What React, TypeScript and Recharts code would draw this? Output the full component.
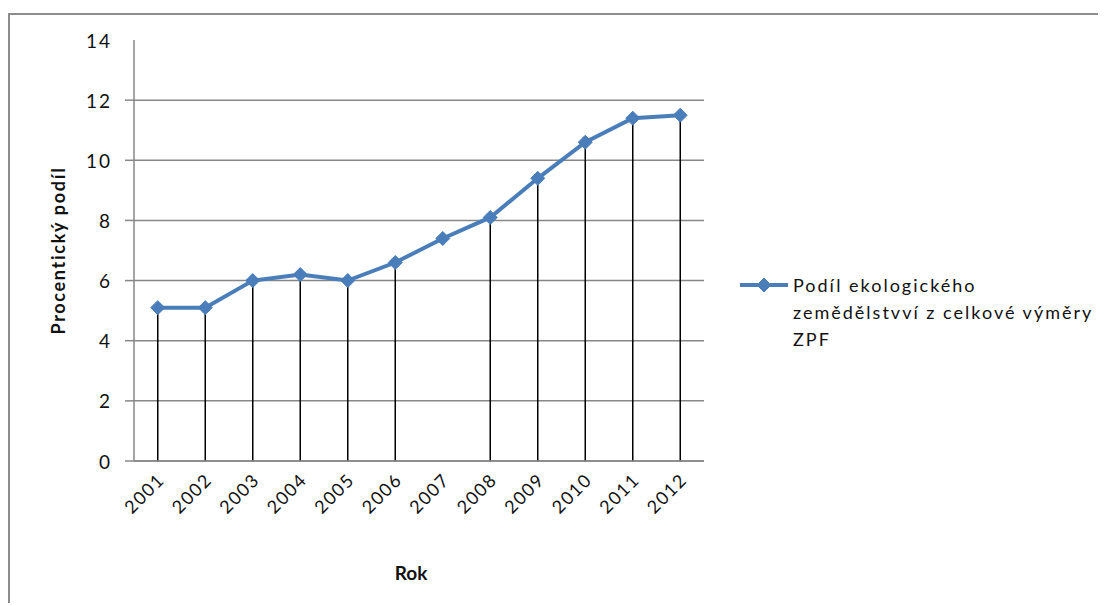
import React from 'react';
import { ComposedChart, Line, Bar, XAxis, YAxis, CartesianGrid, Legend, Label } from 'recharts';

const years = ['2001', '2002', '2003', '2004', '2005', '2006', '2007', '2008', '2009', '2010', '2011', '2012'];
const share = [5.1, 5.1, 6.0, 6.2, 6.0, 6.6, 7.4, 8.1, 9.4, 10.6, 11.4, 11.5];
// the 2007 drop line is missing in the original
const hasDrop = [true, true, true, true, true, true, false, true, true, true, true, true];
const yTicks = [0, 2, 4, 6, 8, 10, 12, 14];

const seriesName = 'Podíl ekologického zemědělství z celkové výměry ZPF';
const legendLines = ['Podíl ekologického', 'zemědělstvví z celkové výměry', 'ZPF'];

const data = years.map((year, i) => ({
  year,
  share: share[i],
  drop: hasDrop[i] ? share[i] : null,
}));

const FONT = 'Lato, "Open Sans", sans-serif';
const BLUE = '#4a7ebb';
const GRID = '#878787';
const LEGEND_W = 340;

const Diamond = (props: any) => {
  const { cx, cy } = props;
  if (cx == null || cy == null) return null;
  const r = 7;
  return (
    <polygon
      points={`${cx},${cy - r} ${cx + r},${cy} ${cx},${cy + r} ${cx - r},${cy}`}
      fill={BLUE}
      stroke={BLUE}
      strokeWidth={1}
    />
  );
};

const YTick = (props: any) => {
  const { x, y, payload } = props;
  return (
    <g>
      {payload.value < 14 && (
        <line x1={x + 13} x2={x + 22} y1={y} y2={y} stroke={GRID} strokeWidth={1.5} />
      )}
      <text
        x={x}
        y={y}
        textAnchor="end"
        dominantBaseline="central"
        fontSize={19}
        letterSpacing={2}
        fill="#111"
        fontFamily={FONT}
      >
        {payload.value}
      </text>
    </g>
  );
};

const XTick = (props: any) => {
  const { x, y, payload } = props;
  return (
    <text
      x={x + 8}
      y={y + 12}
      textAnchor="end"
      fontSize={18}
      letterSpacing={1.5}
      fill="#111"
      fontFamily={FONT}
      transform={`rotate(-45, ${x + 8}, ${y + 12})`}
    >
      {payload.value}
    </text>
  );
};

const LegendBox = () => (
  <svg width={LEGEND_W + 40} height={90} style={{ display: 'block' }}>
    <line x1={0} x2={48} y1={14} y2={14} stroke={BLUE} strokeWidth={4} />
    <Diamond cx={24} cy={14} />
    {legendLines.map((t, i) => (
      <text
        key={i}
        x={53}
        y={14 + i * 27}
        dominantBaseline="central"
        fontSize={18}
        letterSpacing={2}
        fill="#111"
        fontFamily={FONT}
      >
        {t}
      </text>
    ))}
  </svg>
);

export default function App() {
  return (
    <div
      style={{
        marginTop: 5,
        width: 1098,
        height: 588,
        borderTop: '2px solid #8c8c8c',
        borderLeft: '2px solid #8c8c8c',
        background: '#fff',
        fontFamily: FONT,
        overflow: 'hidden',
      }}
    >
      <ComposedChart width={1090} height={585} data={data} margin={{ top: 25, right: 396 - LEGEND_W, left: 0, bottom: 79 }}>
        <CartesianGrid vertical={false} stroke={GRID} strokeWidth={1.5} horizontalValues={[0, 2, 4, 6, 8, 10, 12]} />
        <XAxis
          dataKey="year"
          height={60}
          axisLine={{ stroke: GRID, strokeWidth: 1.5 }}
          tickLine={false}
          tick={<XTick />}
          interval={0}
        >
          <Label
            content={(p: any) => (
              <text
                x={p.viewBox.x + p.viewBox.width / 2 - 8}
                y={557}
                textAnchor="middle"
                dominantBaseline="central"
                fontSize={19}
                fontWeight="bold"
                fill="#111"
                fontFamily={FONT}
              >
                Rok
              </text>
            )}
          />
        </XAxis>
        <YAxis
          width={124}
          domain={[0, 14]}
          ticks={yTicks}
          tickSize={9}
          tickMargin={13}
          tickLine={false}
          axisLine={{ stroke: GRID, strokeWidth: 1.5 }}
          tick={<YTick />}
          interval={0}
        >
          <Label
            content={(p: any) => {
              const cx = p.viewBox.x + 48;
              const cy = p.viewBox.y + p.viewBox.height / 2;
              return (
                <text
                  x={cx}
                  y={cy}
                  textAnchor="middle"
                  dominantBaseline="central"
                  fontSize={18}
                  letterSpacing={1.7}
                  fontWeight="bold"
                  fill="#111"
                  fontFamily={FONT}
                  transform={`rotate(-90, ${cx}, ${cy})`}
                >
                  Procentický podíl
                </text>
              );
            }}
          />
        </YAxis>
        <Legend
          layout="vertical"
          align="right"
          verticalAlign="top"
          wrapperStyle={{ left: 730, top: 256, width: LEGEND_W }}
          content={<LegendBox />}
        />
        <Bar dataKey="drop" barSize={1.5} fill="#000" isAnimationActive={false} legendType="none" />
        <Line
          dataKey="share"
          name={seriesName}
          stroke={BLUE}
          strokeWidth={4}
          dot={<Diamond />}
          activeDot={false}
          isAnimationActive={false}
        />
      </ComposedChart>
    </div>
  );
}
